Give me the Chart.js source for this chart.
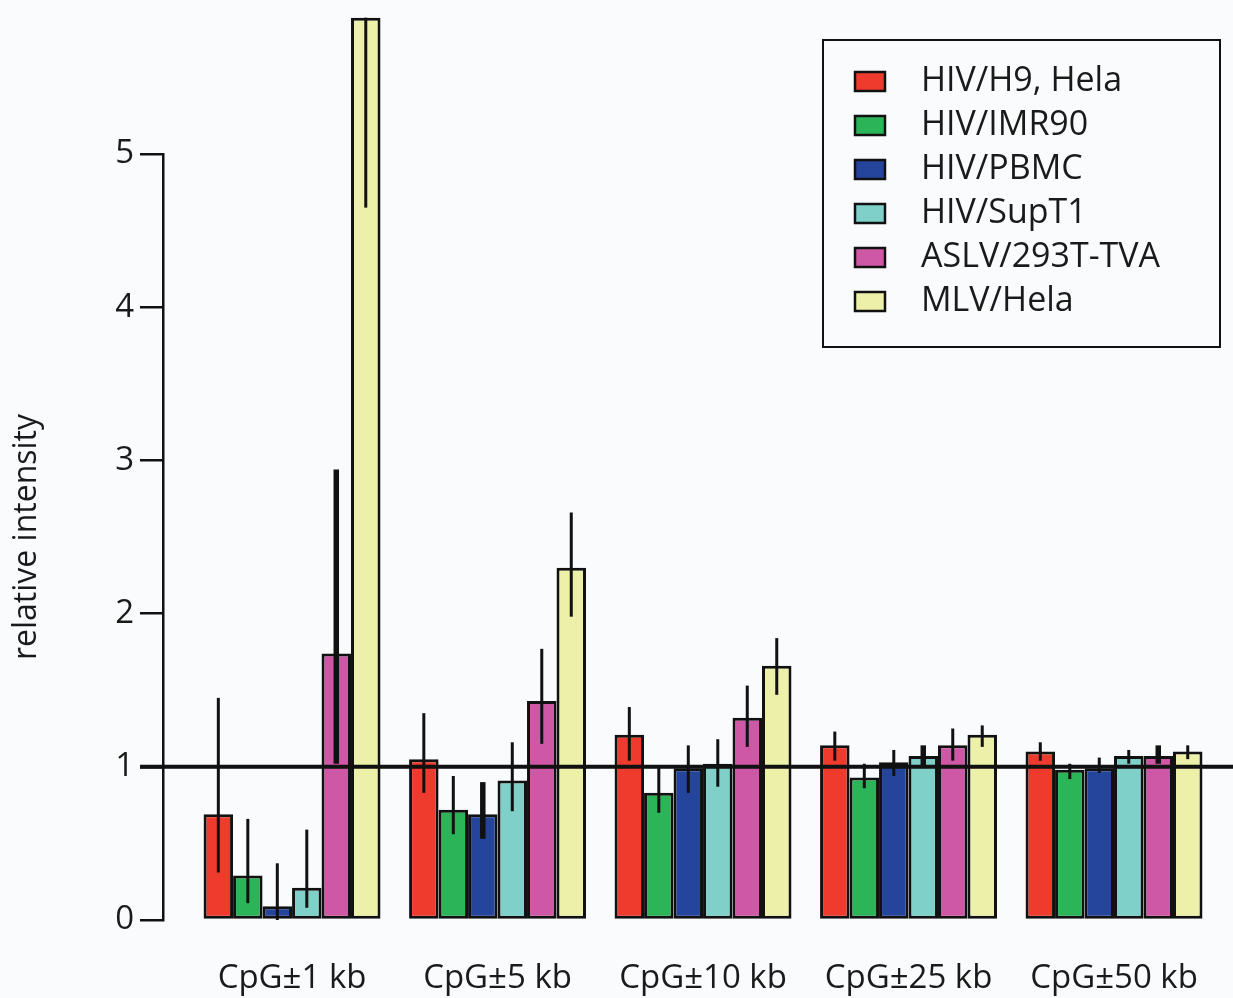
<!DOCTYPE html>
<html>
<head>
<meta charset="utf-8">
<script src="https://cdn.jsdelivr.net/npm/chart.js@4.4.1/dist/chart.umd.min.js"></script>
<style>
  html, body { margin: 0; padding: 0; background: #f9fbfc; }
  #wrap { position: relative; width: 1233px; height: 998px; }
</style>
</head>
<body>
<div id="wrap"><canvas id="intensityChart" width="1233" height="998"></canvas></div>
<script>
// categories and series
var categories = ["CpG±1 kb", "CpG±5 kb", "CpG±10 kb", "CpG±25 kb", "CpG±50 kb"];
var seriesNames = ["HIV/H9, Hela", "HIV/IMR90", "HIV/PBMC", "HIV/SupT1", "ASLV/293T-TVA", "MLV/Hela"];
var yTicks = [0, 1, 2, 3, 4, 5];

var hivH9 = [0.69, 1.05, 1.21, 1.14, 1.10];
var hivImr90 = [0.29, 0.72, 0.83, 0.93, 0.98];
var hivPbmc = [0.09, 0.69, 0.99, 1.03, 0.99];
var hivSupT1 = [0.21, 0.91, 1.02, 1.07, 1.07];
var aslv = [1.74, 1.43, 1.32, 1.14, 1.07];
var mlv = [5.89, 2.30, 1.66, 1.21, 1.10];

// error bar ends, low and high
var hivH9Lo = [0.31, 0.83, 1.04, 1.04, 1.04];
var hivH9Hi = [1.45, 1.35, 1.39, 1.23, 1.16];
var hivImr90Lo = [0.11, 0.56, 0.70, 0.86, 0.92];
var hivImr90Hi = [0.66, 0.94, 1.00, 1.02, 1.02];
var hivPbmcLo = [0.00, 0.53, 0.83, 0.94, 0.96];
var hivPbmcHi = [0.37, 0.90, 1.14, 1.11, 1.06];
var hivSupT1Lo = [0.08, 0.71, 0.87, 1.01, 1.02];
var hivSupT1Hi = [0.59, 1.16, 1.18, 1.14, 1.11];
var aslvLo = [1.02, 1.15, 1.13, 1.04, 1.02];
var aslvHi = [2.94, 1.77, 1.53, 1.25, 1.14];
var mlvLo = [4.65, 1.98, 1.47, 1.13, 1.05];
var mlvHi = [5.89, 2.66, 1.84, 1.27, 1.14];

var values = [hivH9, hivImr90, hivPbmc, hivSupT1, aslv, mlv];
var lows = [hivH9Lo, hivImr90Lo, hivPbmcLo, hivSupT1Lo, aslvLo, mlvLo];
var highs = [hivH9Hi, hivImr90Hi, hivPbmcHi, hivSupT1Hi, aslvHi, mlvHi];
var colors = ["#ee3b2d", "#2cb458", "#25459d", "#7fd0c9", "#cf58a6", "#edf0a8"];

Chart.defaults.font.family = "'Open Sans', sans-serif";
Chart.defaults.color = "#1a1a1a";

// error bars, the line at 1 and the boxed legend
var extras = {
    id: 'extras',
    afterDatasetsDraw: function (chart, args, opts) {
        var ctx = chart.ctx;
        var y = chart.scales.y;
        var area = chart.chartArea;
        ctx.save();
        ctx.strokeStyle = '#111';
        for (var d = 0; d < values.length; d++) {
            var meta = chart.getDatasetMeta(d);
            for (var i = 0; i < meta.data.length; i++) {
                var bar = meta.data[i];
                ctx.lineWidth = opts.thick.indexOf(d + ':' + i) >= 0 ? 5.5 : 3;
                ctx.beginPath();
                ctx.moveTo(bar.x, y.getPixelForValue(lows[d][i]));
                ctx.lineTo(bar.x, y.getPixelForValue(highs[d][i]));
                ctx.stroke();
            }
        }
        // reference line at 1
        var y1 = y.getPixelForValue(1);
        ctx.lineWidth = 4;
        ctx.beginPath();
        ctx.moveTo(area.left - 23, y1);
        ctx.lineTo(chart.width, y1);
        ctx.stroke();

        // legend
        var lx = area.right - 410, ly = 40;
        ctx.lineWidth = 2;
        ctx.strokeRect(lx, ly, 397, 307);
        ctx.font = "34px 'Open Sans', sans-serif";
        ctx.textBaseline = 'middle';
        ctx.textAlign = 'left';
        for (var k = 0; k < seriesNames.length; k++) {
            var cy = ly + 41 + k * 44;
            ctx.fillStyle = colors[k];
            ctx.fillRect(lx + 32, cy - 9, 30, 19);
            ctx.lineWidth = 2.5;
            ctx.strokeRect(lx + 32, cy - 9, 30, 19);
            ctx.fillStyle = '#1a1a1a';
            ctx.fillText(seriesNames[k], lx + 98, cy);
        }
        ctx.restore();
    }
};

var datasets = values.map(function (vals, d) {
    return {
        label: seriesNames[d],
        data: vals.map(function (v, i) { return { x: i, y: v }; }),
        backgroundColor: colors[d],
        borderColor: '#111',
        borderWidth: 3,
        borderSkipped: false,
        clip: false
    };
});

new Chart("intensityChart", {
    type: 'bar',
    data: { datasets: datasets },
    plugins: [extras],
    options: {
        responsive: false,
        animation: false,
        categoryPercentage: 0.861,
        barPercentage: 1,
        layout: { padding: { top: 154, left: 0, right: 0, bottom: 0 } },
        plugins: {
            legend: { display: false },
            tooltip: { enabled: false },
            extras: { thick: ['4:0', '2:1', '3:3', '4:4'] }
        },
        scales: {
            x: {
                type: 'linear',
                offset: false,
                min: -0.628,
                max: 4.579,
                grid: { display: false },
                border: { display: false },
                afterBuildTicks: function (scale) {
                    scale.ticks = categories.map(function (c, i) { return { value: i }; });
                },
                afterFit: function (scale) { scale.height = 78; },
                ticks: {
                    font: { size: 33 },
                    padding: 31,
                    autoSkip: false,
                    maxRotation: 0,
                    callback: function (v) { return categories[v]; }
                }
            },
            y: {
                min: 0,
                max: 5,
                afterBuildTicks: function (scale) {
                    scale.ticks = yTicks.map(function (v) { return { value: v }; });
                },
                afterFit: function (scale) { scale.width = 163; },
                border: { display: true, color: '#111', width: 2.5 },
                grid: { drawOnChartArea: false, color: '#111', lineWidth: 2.5, tickLength: 23 },
                ticks: { font: { size: 33 }, padding: 6 },
                title: {
                    display: true,
                    text: 'relative intensity',
                    font: { size: 32 },
                    padding: { top: 8, bottom: 0 }
                }
            }
        }
    }
});
</script>
</body>
</html>
